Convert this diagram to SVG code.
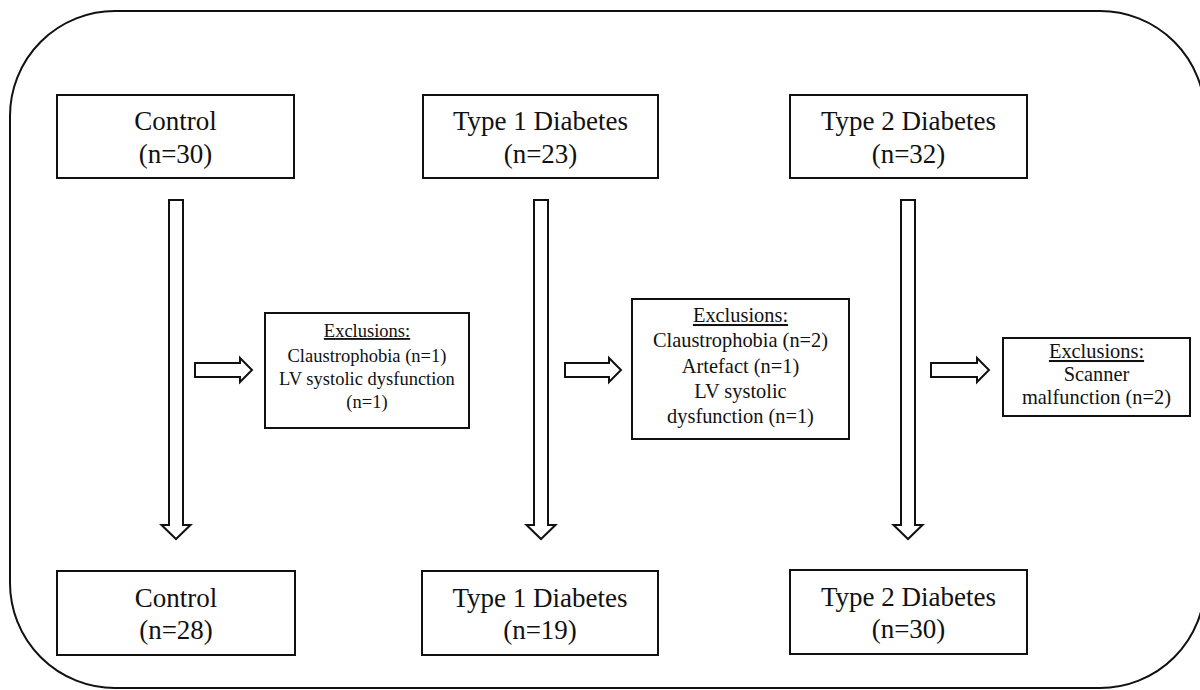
<svg xmlns="http://www.w3.org/2000/svg" width="1200" height="690" viewBox="0 0 1200 690">
<style>
.box{fill:#fff;stroke:#111;stroke-width:2}
.arr{fill:#fff;stroke:#111;stroke-width:2;stroke-linejoin:miter}
.t{font-family:"Liberation Serif","Times New Roman",serif;font-size:27px;fill:#111;text-anchor:middle}
.e{font-family:"Liberation Serif","Times New Roman",serif;font-size:20.4px;fill:#111;text-anchor:middle}
.s{font-size:18.5px}
.u{text-decoration:underline}
</style>
<rect x="10" y="11" width="1195" height="677" rx="105" ry="105" fill="#fff" stroke="#111" stroke-width="2"/>
<g id="connectors">
<path class="arr" d="M169,200 H183 V525 H190.5 L176,539 L161.5,525 H169 Z"/>
<path class="arr" d="M534,200 H548 V525 H555.5 L541,539 L526.5,525 H534 Z"/>
<path class="arr" d="M901,200 H915 V525 H922.5 L908,539 L893.5,525 H901 Z"/>
<path class="arr" d="M195,363 V377 H240 V382 L252,370 L240,358 V363 Z"/>
<path class="arr" d="M565,363 V377 H609 V382 L621,370 L609,358 V363 Z"/>
<path class="arr" d="M931,363 V377 H977 V382 L989,370 L977,358 V363 Z"/>
</g>
<g id="control-start">
<rect class="box" x="57" y="95" width="237" height="83"/>
<text class="t" x="175.5" y="130">Control</text>
<text class="t" x="175.5" y="163">(n=30)</text>
</g>
<g id="t1d-start">
<rect class="box" x="423" y="95" width="235" height="83"/>
<text class="t" x="540.5" y="130">Type 1 Diabetes</text>
<text class="t" x="540.5" y="163">(n=23)</text>
</g>
<g id="t2d-start">
<rect class="box" x="790" y="95" width="237" height="83"/>
<text class="t" x="908.5" y="130">Type 2 Diabetes</text>
<text class="t" x="908.5" y="163">(n=32)</text>
</g>
<g id="excl-control">
<rect class="box" x="265" y="313" width="204" height="115"/>
<text class="e s u" x="367" y="337">Exclusions:</text>
<text class="e s" x="367" y="362">Claustrophobia (n=1)</text>
<text class="e s" x="367" y="385">LV systolic dysfunction</text>
<text class="e s" x="367" y="408">(n=1)</text>
</g>
<g id="excl-t1d">
<rect class="box" x="632" y="299" width="217" height="140"/>
<text class="e u" x="740.5" y="322">Exclusions:</text>
<text class="e" x="740.5" y="347">Claustrophobia (n=2)</text>
<text class="e" x="740.5" y="373">Artefact (n=1)</text>
<text class="e" x="740.5" y="398">LV systolic</text>
<text class="e" x="740.5" y="423">dysfunction (n=1)</text>
</g>
<g id="excl-t2d">
<rect class="box" x="1003" y="338" width="187" height="78"/>
<text class="e u" x="1096.5" y="358">Exclusions:</text>
<text class="e" x="1096.5" y="381">Scanner</text>
<text class="e" x="1096.5" y="404">malfunction (n=2)</text>
</g>
<g id="control-end">
<rect class="box" x="57" y="571" width="238" height="84"/>
<text class="t" x="176" y="607">Control</text>
<text class="t" x="176" y="639">(n=28)</text>
</g>
<g id="t1d-end">
<rect class="box" x="422" y="571" width="236" height="84"/>
<text class="t" x="540" y="607">Type 1 Diabetes</text>
<text class="t" x="540" y="639">(n=19)</text>
</g>
<g id="t2d-end">
<rect class="box" x="790" y="570" width="237" height="84"/>
<text class="t" x="908.5" y="606">Type 2 Diabetes</text>
<text class="t" x="908.5" y="638">(n=30)</text>
</g>
</svg>
